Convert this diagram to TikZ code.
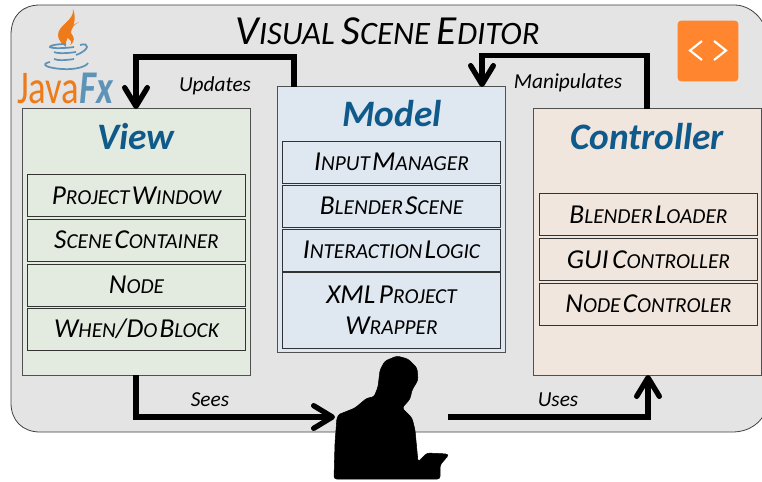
\documentclass[tikz,border=0pt]{standalone}
\usepackage{fontspec}
\usepackage{graphicx}
\setmainfont{Carlito}
\usetikzlibrary{arrows.meta}
\definecolor{paneBg}{HTML}{E4E4E4}
\definecolor{viewBg}{HTML}{E3EADF}
\definecolor{modelBg}{HTML}{DFE7F0}
\definecolor{controlBg}{HTML}{F0E6DE}
\definecolor{headBlue}{HTML}{0F5A8A}
\definecolor{edgeGrey}{HTML}{505050}
\definecolor{fxOrange}{HTML}{EE7B1A}
\definecolor{fxBlue}{HTML}{5E93B8}
\definecolor{iconOrange}{HTML}{FF862F}
\newcommand{\smc}[2]{{\fontsize{20.5}{22}\selectfont #1}{\fontsize{16}{22}\selectfont #2}}
\newcommand{\ttl}[2]{{\fontsize{31}{34}\selectfont #1}{\fontsize{24.5}{34}\selectfont #2}}
\tikzset{
  bigbox/.style={draw=edgeGrey,line width=0.75pt,minimum width=171pt,minimum height=199.5pt,inner sep=0pt,outer sep=0pt},
  itembox/.style={draw=black!80,line width=0.6pt,minimum width=164pt,minimum height=31.5pt,inner sep=0pt,outer sep=0pt,font=\itshape,align=center},
  headtext/.style={inner sep=0pt,font=\fontsize{28}{30}\selectfont\bfseries\itshape,text=headBlue},
  flowtext/.style={inner sep=0pt,font=\fontsize{16}{18}\selectfont\itshape},
  flowline/.style={line width=4pt,-{Straight Barb[length=14pt,width=17pt,round]}},
}
\begin{document}
\begin{tikzpicture}[x=0.75pt,y=0.75pt,yscale=-1,xscale=1]
    \useasboundingbox (0,0) rectangle (762,481);
    % Background pane
    \draw[draw=black!75,fill=paneBg,line width=0.6pt] (40,432) -- (732,432) .. controls (750,432) and (762,422) .. (766,410) -- (766,30) .. controls (760,12) and (745,5) .. (735,5) -- (40,5) .. controls (22,5) and (11,16) .. (11,35) -- (11,403) .. controls (11,420) and (22,432) .. (40,432) -- cycle;
    % Title
    \node[inner sep=0pt,font=\itshape] (title) at (387.5,31) {\ttl{V}{ISUAL}\hspace{5pt}\ttl{S}{CENE}\hspace{5pt}\ttl{E}{DITOR}};
    % Big boxes
    \node[bigbox,fill=viewBg] (view) at (136,242) {};
    \node[bigbox,fill=modelBg] (model) at (391.5,219.5) {};
    \node[bigbox,fill=controlBg] (controller) at (647,242) {};
    \node[headtext] (viewhead) at (136,137) {View};
    \node[headtext] (modelhead) at (392,114) {Model};
    \node[headtext] (controllerhead) at (647,137) {Controller};
    % View items
    \node[itembox,fill=viewBg] (window) at (136.5,195.5) {\smc{P}{ROJECT}\,\smc{W}{INDOW}};
    \node[itembox,fill=viewBg] (container) at (136.5,240) {\smc{S}{CENE}\,\smc{C}{ONTAINER}};
    \node[itembox,fill=viewBg] (nodeitem) at (136.5,285) {\smc{N}{ODE}};
    \node[itembox,fill=viewBg] (whendo) at (136.5,329) {\smc{W}{HEN}\smc{/D}{O}\,\smc{B}{LOCK}};
    % Model items
    \node[itembox,fill=modelBg] (input) at (391.5,162) {\smc{I}{NPUT}\,\smc{M}{ANAGER}};
    \node[itembox,fill=modelBg] (scene) at (391.5,206) {\smc{B}{LENDER}\,\smc{S}{CENE}};
    \node[itembox,fill=modelBg] (logic) at (391.5,250) {\smc{I}{NTERACTION}\,\smc{L}{OGIC}};
    \node[itembox,fill=modelBg,minimum height=56.5pt] (wrapper) at (391.5,310.5) {\smc{XML}{}\;\smc{P}{ROJECT}\\[9pt]\smc{W}{RAPPER}};
    % Controller items
    \node[itembox,fill=controlBg] (loader) at (648.5,214.5) {\smc{B}{LENDER}\,\smc{L}{OADER}};
    \node[itembox,fill=controlBg] (gui) at (648.5,259.5) {\smc{GUI}{}\;\smc{C}{ONTROLLER}};
    \node[itembox,fill=controlBg] (nodectrl) at (648.5,304) {\smc{N}{ODE}\,\smc{C}{ONTROLER}};
    % Person
    \draw[fill=black,draw=black,rounded corners=2pt] (334,479) -- (335,443) -- (337,417) -- (340,414) -- (355,408) -- (367,398) -- (374,397) -- (378,387) -- (380,370) -- (385,361) -- (397,356) -- (408,359) -- (417,368) -- (418,380) -- (412,390) -- (410,399) -- (402,408) -- (412,418) -- (415,430) -- (418,462) -- (427,453) -- (448,454) -- (447,457) -- (440,465) -- (440,479) -- cycle;
    \coordinate (personleft) at (335,417);
    \coordinate (personright) at (448,417);
    % Arrows
    \coordinate (updatesout) at (294,87);
    \coordinate (manipout) at (647,109);
    \coordinate (manipin) at (482,87);
    \coordinate (seesout) at (136,375);
    \coordinate (usesin) at (648,375);
    \draw[flowline] (updatesout) -- (294,57) -| (view.north);
    \draw[flowline] (manipout) -- (647,55.5) -| (manipin);
    \draw[flowline] (seesout) |- (personleft);
    \draw[flowline] (personright) -| (usesin);
    % Arrow labels
    \node[flowtext] (updates) at (215,86) {Updates};
    \node[flowtext] (manipulates) at (568,83) {Manipulates};
    \node[flowtext] (sees) at (210,400) {Sees};
    \node[flowtext] (uses) at (558,400) {Uses};
    % Code icon
    \node[fill=iconOrange,rounded corners=2.5pt,minimum width=45.5pt,minimum height=45.5pt,inner sep=0pt] (icon) at (708,51) {};
    \draw[white,line width=1.6pt] (702,41) -- (690,50.5) -- (702,60);
    \draw[white,line width=1.6pt] (714,41) -- (726,50.5) -- (714,60);
    % JavaFx logo
    \node[inner sep=0pt,anchor=west] (java) at (17,88) {\scalebox{0.86}[1.1]{\fontsize{32}{34}\selectfont\color{fxOrange}Java\bfseries\itshape\color{fxBlue}Fx}};
    \fill[fxOrange] (73,9) .. controls (75,20) and (58,25) .. (58,35) .. controls (58,40) and (62,44) .. (66,47) .. controls (63,38) and (80,27) .. (73,9) -- cycle;
    \fill[fxOrange] (79,22) .. controls (70,26) and (64,32) .. (68,38) .. controls (72,42) and (72,42) .. (70,45) .. controls (76,41) and (74,37) .. (71,33) .. controls (70,28) and (74,25) .. (79,22) -- cycle;
    \draw[fxBlue,line width=1.3pt] (66,44) .. controls (55,44) and (49,46) .. (50,47) .. controls (52,49) and (68,48) .. (74,47);
    \draw[fxBlue,line width=1.3pt] (54,52) .. controls (58,54) and (70,53) .. (76,52);
    \draw[fxBlue,line width=1.3pt] (54,59) .. controls (58,61) and (68,60) .. (74,59);
    \draw[fxBlue,line width=1.3pt] (80,45) .. controls (90,42) and (90,50) .. (76,55);
    \draw[fxBlue,line width=1.3pt] (50,62) .. controls (40,64) and (46,68) .. (62,69) .. controls (74,70) and (86,67) .. (88,63);
\end{tikzpicture}
\end{document}
